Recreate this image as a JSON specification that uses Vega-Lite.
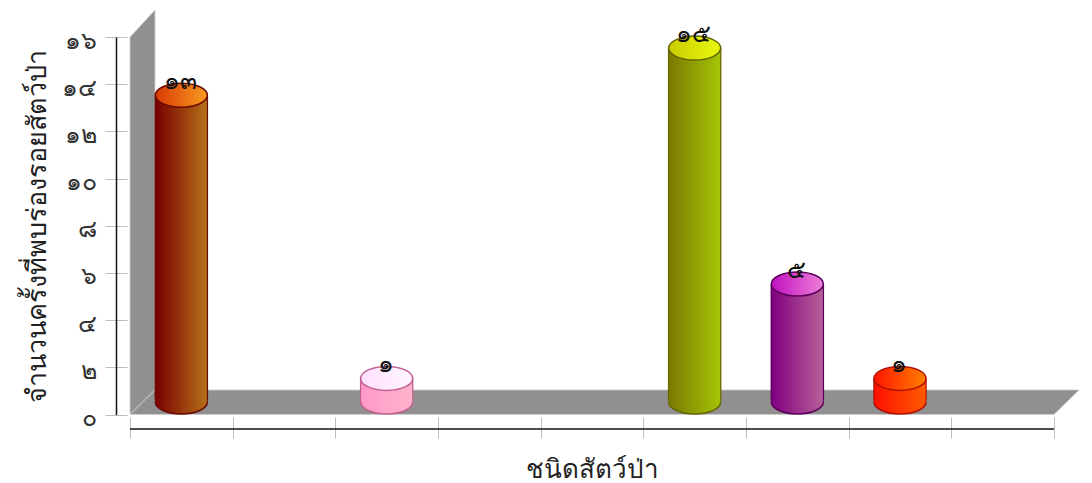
{"$schema":"https://vega.github.io/schema/vega-lite/v6.json","width":924,"height":377.5,"autosize":"none","padding":{"left":130,"top":37,"right":38,"bottom":68.5},"background":"white","config":{"view":{"stroke":null}},"datasets":{"rows":[{"animal":"ชนิดที่ 1","value":13,"label":"๑๓"},{"animal":"ชนิดที่ 3","value":1,"label":"๑"},{"animal":"ชนิดที่ 6","value":15,"label":"๑๕"},{"animal":"ชนิดที่ 7","value":5,"label":"๕"},{"animal":"ชนิดที่ 8","value":1,"label":"๑"}],"wall":[{"d":0,"low":0,"high":16},{"d":0.2435,"low":1.04,"high":17.14}],"floor":[{"h":0,"from":0,"to":9},{"h":1.04,"from":0.2435,"to":9.2435}]},"resolve":{"scale":{"x":"independent","y":"independent"},"axis":{"x":"independent","y":"independent"}},"layer":[{"layer":[{"data":{"name":"wall"},"mark":{"type":"area","fill":"#909090","stroke":"#cfcfcf","strokeWidth":0.8},"encoding":{"x":{"field":"d","type":"quantitative","scale":{"domain":[0,9],"nice":false},"axis":null},"y":{"field":"low","type":"quantitative","scale":{"domain":[0,16],"nice":false},"axis":{"orient":"left","offset":3,"values":[0,2,4,6,8,10,12,14,16],"grid":false,"domain":false,"tickSize":22,"tickColor":"#bdbdbd","labelExpr":"{'0':'๐','2':'๒','4':'๔','6':'๖','8':'๘','10':'๑๐','12':'๑๒','14':'๑๔','16':'๑๖'}[datum.label]","labelAngle":0,"labelAlign":"right","labelBaseline":"middle","labelFontSize":25,"labelColor":"#333333","labelPadding":9,"labelOffset":3,"labelOverlap":false,"labelFlush":false,"title":"จำนวนครั้งที่พบร่องรอยสัตว์ป่า","titleFontSize":27,"titleFontWeight":"normal","titleColor":"#222222","titlePadding":10}},"y2":{"field":"high"}}},{"data":{"name":"floor"},"mark":{"type":"area","orient":"horizontal","fill":"#909090","stroke":"#cfcfcf","strokeWidth":0.8},"encoding":{"y":{"field":"h","type":"quantitative"},"x":{"field":"from","type":"quantitative"},"x2":{"field":"to"}}},{"data":{"values":[{"v":-0.614}]},"mark":{"type":"rule","color":"#111111","strokeWidth":1.5},"encoding":{"y":{"field":"v","type":"quantitative"}}}]},{"data":{"name":"rows"},"encoding":{"x":{"field":"animal","type":"nominal","scale":{"type":"band","paddingInner":0,"paddingOuter":0,"domain":["ชนิดที่ 1","ชนิดที่ 2","ชนิดที่ 3","ชนิดที่ 4","ชนิดที่ 5","ชนิดที่ 6","ชนิดที่ 7","ชนิดที่ 8","ชนิดที่ 9"]},"axis":{"orient":"bottom","labels":false,"domain":false,"tickBand":"extent","tickSize":21,"offset":2.5,"tickColor":"#bdbdbd","title":"ชนิดสัตว์ป่า","titleFontSize":26,"titleFontWeight":"normal","titleColor":"#222222","titlePadding":18}}},"layer":[{"mark":{"type":"point","filled":true,"opacity":1,"size":2704,"shape":"M-1,0A1,0.4615,0,1,1,1,0A1,0.4615,0,1,1,-1,0Z","strokeWidth":1.5},"encoding":{"y":{"datum":0,"type":"quantitative","scale":{"domain":[-0.53,15.47],"nice":false},"axis":{"orient":"left","offset":14,"ticks":false,"labels":false,"grid":false,"domain":true,"domainColor":"#111111","domainWidth":1.5,"title":null}},"fill":{"condition":[{"test":"datum.animal==='ชนิดที่ 1'","value":{"gradient":"linear","x1":0,"x2":1,"y1":0,"y2":0,"stops":[{"offset":0,"color":"#7a0000"},{"offset":1,"color":"#b5701a"}]}},{"test":"datum.animal==='ชนิดที่ 3'","value":{"gradient":"linear","x1":0,"x2":1,"y1":0,"y2":0,"stops":[{"offset":0,"color":"#ff99c8"},{"offset":1,"color":"#ffb3cc"}]}},{"test":"datum.animal==='ชนิดที่ 6'","value":{"gradient":"linear","x1":0,"x2":1,"y1":0,"y2":0,"stops":[{"offset":0,"color":"#7a7a00"},{"offset":1,"color":"#a5c408"}]}},{"test":"datum.animal==='ชนิดที่ 7'","value":{"gradient":"linear","x1":0,"x2":1,"y1":0,"y2":0,"stops":[{"offset":0,"color":"#800080"},{"offset":1,"color":"#b8609a"}]}}],"value":{"gradient":"linear","x1":0,"x2":1,"y1":0,"y2":0,"stops":[{"offset":0,"color":"#ff1000"},{"offset":1,"color":"#ff5a00"}]}},"stroke":{"field":"animal","type":"nominal","legend":null,"scale":{"domain":["ชนิดที่ 1","ชนิดที่ 3","ชนิดที่ 6","ชนิดที่ 7","ชนิดที่ 8"],"range":["#6a0a00","#c06090","#666600","#5a005a","#b01000"]}}}},{"mark":{"type":"bar","width":53.5},"encoding":{"y":{"field":"value","type":"quantitative"},"y2":{"datum":0.1},"fill":{"field":"animal","type":"nominal","legend":null,"scale":{"domain":["ชนิดที่ 1","ชนิดที่ 3","ชนิดที่ 6","ชนิดที่ 7","ชนิดที่ 8"],"range":["#6a0a00","#c06090","#666600","#5a005a","#b01000"]}}}},{"mark":{"type":"bar","width":51},"encoding":{"y":{"field":"value","type":"quantitative"},"y2":{"datum":0},"fill":{"condition":[{"test":"datum.animal==='ชนิดที่ 1'","value":{"gradient":"linear","x1":0,"x2":1,"y1":0,"y2":0,"stops":[{"offset":0,"color":"#7a0000"},{"offset":1,"color":"#b5701a"}]}},{"test":"datum.animal==='ชนิดที่ 3'","value":{"gradient":"linear","x1":0,"x2":1,"y1":0,"y2":0,"stops":[{"offset":0,"color":"#ff99c8"},{"offset":1,"color":"#ffb3cc"}]}},{"test":"datum.animal==='ชนิดที่ 6'","value":{"gradient":"linear","x1":0,"x2":1,"y1":0,"y2":0,"stops":[{"offset":0,"color":"#7a7a00"},{"offset":1,"color":"#a5c408"}]}},{"test":"datum.animal==='ชนิดที่ 7'","value":{"gradient":"linear","x1":0,"x2":1,"y1":0,"y2":0,"stops":[{"offset":0,"color":"#800080"},{"offset":1,"color":"#b8609a"}]}}],"value":{"gradient":"linear","x1":0,"x2":1,"y1":0,"y2":0,"stops":[{"offset":0,"color":"#ff1000"},{"offset":1,"color":"#ff5a00"}]}}}},{"mark":{"type":"point","filled":true,"opacity":1,"size":2704,"shape":"M-1,0A1,0.4615,0,1,1,1,0A1,0.4615,0,1,1,-1,0Z","strokeWidth":1.5},"encoding":{"y":{"field":"value","type":"quantitative"},"fill":{"condition":[{"test":"datum.animal==='ชนิดที่ 1'","value":{"gradient":"linear","x1":0,"x2":1,"y1":0,"y2":0,"stops":[{"offset":0,"color":"#d83a05"},{"offset":1,"color":"#f89a20"}]}},{"test":"datum.animal==='ชนิดที่ 3'","value":{"gradient":"linear","x1":0,"x2":1,"y1":0,"y2":0,"stops":[{"offset":0,"color":"#ffe0ff"},{"offset":1,"color":"#fff5ff"}]}},{"test":"datum.animal==='ชนิดที่ 6'","value":{"gradient":"linear","x1":0,"x2":1,"y1":0,"y2":0,"stops":[{"offset":0,"color":"#cccc00"},{"offset":1,"color":"#e8f810"}]}},{"test":"datum.animal==='ชนิดที่ 7'","value":{"gradient":"linear","x1":0,"x2":1,"y1":0,"y2":0,"stops":[{"offset":0,"color":"#c010c0"},{"offset":1,"color":"#ee80d8"}]}}],"value":{"gradient":"linear","x1":0,"x2":1,"y1":0,"y2":0,"stops":[{"offset":0,"color":"#ff1500"},{"offset":1,"color":"#ff8000"}]}},"stroke":{"field":"animal","type":"nominal","legend":null,"scale":{"domain":["ชนิดที่ 1","ชนิดที่ 3","ชนิดที่ 6","ชนิดที่ 7","ชนิดที่ 8"],"range":["#6a0a00","#c06090","#666600","#5a005a","#b01000"]}}}},{"mark":{"type":"text","dy":-6,"dx":-1,"baseline":"alphabetic","align":"center","fontSize":25,"color":"#111111"},"encoding":{"y":{"field":"value","type":"quantitative"},"text":{"field":"label","type":"nominal"}}}]}]}
